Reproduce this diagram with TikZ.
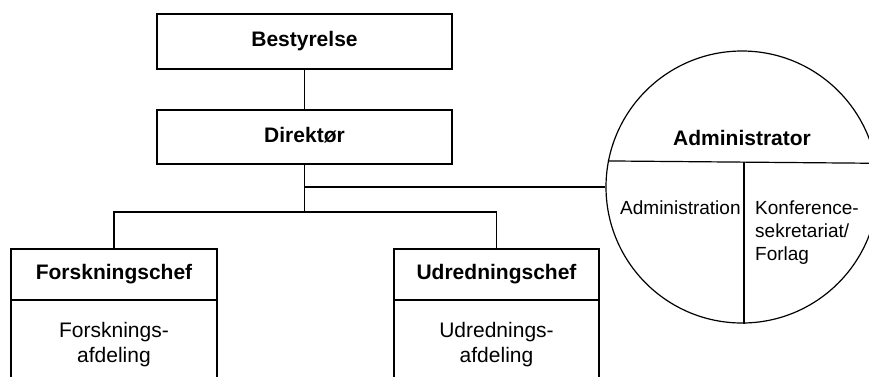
\documentclass[tikz,border=0pt]{standalone}
\usepackage{fontspec}
\setmainfont{Liberation Sans}
\begin{document}
\begin{tikzpicture}[x=1pt,y=-1pt,
  every node/.style={inner sep=0pt},
  conn/.style={line width=1.3pt},
  hbox/.style={draw, line width=1.4pt, font=\fontsize{21}{25}\selectfont\bfseries,
               text height=15pt, text depth=5pt},
  bbox/.style={draw, line width=1.4pt, font=\fontsize{21}{25}\selectfont, align=center},
  circ/.style={draw, circle, line width=1.2pt, minimum size=272pt},
  hd/.style={font=\fontsize{21}{25}\selectfont\bfseries},
  sm/.style={font=\fontsize{19}{23}\selectfont}]
\useasboundingbox (0,0) rectangle (869,376);
\clip (0,0) rectangle (869,376);

% top boxes
\node[hbox, minimum width=295pt, minimum height=55pt] (best) at (304.5,41.5) {Bestyrelse};
\node[hbox, minimum width=295pt, minimum height=54pt] (dir) at (304.5,137) {Direktør};

% lower boxes
\node[hbox, minimum width=206pt, minimum height=51pt] (fch) at (114,274.5) {Forskningschef};
\node[bbox, minimum width=206pt, minimum height=90pt] (fafd) at (114,345) {Forsknings-\\afdeling};
\node[hbox, minimum width=205pt, minimum height=51pt] (uch) at (496.5,274.5) {Udredningschef};
\node[bbox, minimum width=205pt, minimum height=90pt] (uafd) at (496.5,345) {Udrednings-\\afdeling};

% administrator circle
\node[circ] (adm) at (742,187) {};
\node[hd, anchor=base] (admt) at (742,145) {Administrator};
\draw[line width=1.2pt] (adm.169.4) -- (adm.10.6);
\coordinate (vtop) at (744,162);
\draw[line width=1.2pt] (vtop) -- (vtop |- adm.south);
\node[sm, anchor=base west] (admin) at (620,214) {Administration};
\node[sm, anchor=north west, align=left] (konf) at (755,200.5) {Konference-\\sekretariat/\\Forlag};

% connectors
\coordinate (split) at (304.5,212);
\draw[conn] (best) -- (dir);
\draw[conn] (dir) -- (split);
\draw[conn] (fch.north) |- (split) -| (uch.north);
\draw[conn] (dir.south |- adm.west) -- (adm.west);
\end{tikzpicture}
\end{document}
